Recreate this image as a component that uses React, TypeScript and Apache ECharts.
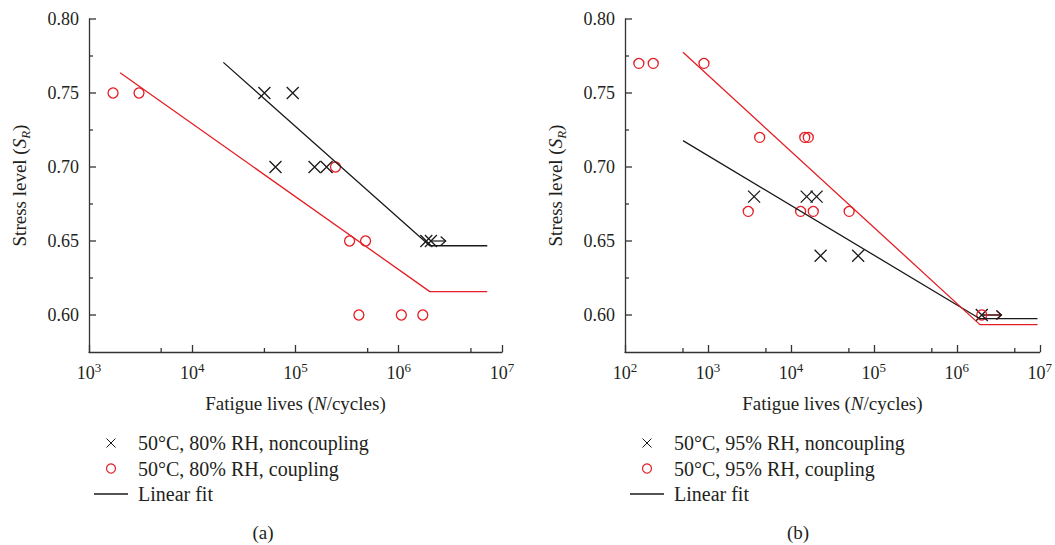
import React, { useEffect, useRef } from "react";
import * as echarts from "echarts";

// ---------- data ----------
// Panel (a): 50°C, 80% RH
const noncouplingA: number[][] = [
  [5.0e4, 0.75], [9.4e4, 0.75], [6.4e4, 0.70], [1.53e5, 0.70], [2.0e5, 0.70],
  [1.85e6, 0.65], [2.05e6, 0.65],
];
const couplingA: number[][] = [
  [1.71e3, 0.75], [3.05e3, 0.75], [2.44e5, 0.70], [3.34e5, 0.65], [4.77e5, 0.65],
  [4.11e5, 0.60], [1.06e6, 0.60], [1.71e6, 0.60],
];
const fitNoncouplingA: number[][] = [[2e4, 0.7707], [2e6, 0.6468], [7.2e6, 0.6468]];
const fitCouplingA: number[][] = [[2e3, 0.7637], [2e6, 0.6158], [7.2e6, 0.6158]];
const runoutA: number[][] = [[2.05e6, 0.65, 2.85e6]];

// Panel (b): 50°C, 95% RH
const noncouplingB: number[][] = [
  [3.6e3, 0.68], [1.55e4, 0.68], [2.04e4, 0.68], [2.28e4, 0.64], [6.47e4, 0.64],
  [2.0e6, 0.60],
];
const couplingB: number[][] = [
  [147, 0.77], [219, 0.77], [896, 0.77], [4.2e3, 0.72], [1.47e4, 0.72], [1.62e4, 0.72],
  [3.06e3, 0.67], [1.31e4, 0.67], [1.86e4, 0.67], [5.04e4, 0.67], [2.0e6, 0.60],
];
const fitNoncouplingB: number[][] = [[500, 0.7178], [1.9e6, 0.5975], [9.4e6, 0.5975]];
const fitCouplingB: number[][] = [[500, 0.7775], [1.9e6, 0.5935], [9.4e6, 0.5935]];
const runoutB: number[][] = [[2.05e6, 0.60, 3.45e6]];

// tick values
const yMajorTicks = [0.6, 0.65, 0.7, 0.75, 0.8];
const yMinorTicks = [0.625, 0.675, 0.725, 0.775];
const xMinorTicksA = [5e3, 5e4, 5e5, 5e6];
const xMinorTicksB = [5e2, 5e3, 5e4, 5e5, 5e6];

const namesA = ["50°C, 80% RH, noncoupling", "50°C, 80% RH, coupling", "Linear fit"];
const namesB = ["50°C, 95% RH, noncoupling", "50°C, 95% RH, coupling", "Linear fit"];

// ---------- styles ----------
const FONT = "Liberation Serif, serif";
const TXT = "#231f20";
const AX = "#333333";
const RED = "#e41f26";
const BLK = "#1a1a1a";
const XSYM = "path://M0 0L10 10M10 0L0 10";
const LINE_ICON = "path://M0 0H34V1.3H0Z";

export default function App() {
  const ref = useRef<HTMLDivElement>(null);

  useEffect(() => {
    if (!ref.current) return;
    const chart = echarts.init(ref.current, undefined, { renderer: "svg" });

    const xAxisCommon = (gridIndex: number, min: number) => ({
      type: "log",
      logBase: 10,
      gridIndex,
      min,
      max: 1e7,
      axisLine: { show: true, lineStyle: { color: AX, width: 1.3 } },
      axisTick: { show: true, inside: true, length: 7, lineStyle: { color: AX, width: 1.3 } },
      splitLine: { show: false },
      minorTick: { show: false },
      axisLabel: {
        margin: 9,
        fontFamily: FONT,
        formatter: (v: number) => `{b|10}{s|${Math.round(Math.log10(v))}}`,
        rich: {
          b: { fontFamily: FONT, fontSize: 18, color: TXT },
          s: { fontFamily: FONT, fontSize: 13, color: TXT, verticalAlign: "top", padding: [0, 0, 10, 0] },
        },
      },
      name: "Fatigue lives ({i|N}/cycles)",
      nameLocation: "middle",
      nameGap: 42,
      nameTextStyle: {
        fontFamily: FONT,
        fontSize: 19,
        color: TXT,
        rich: { i: { fontFamily: FONT, fontSize: 19, fontStyle: "italic", color: TXT } },
      },
    });

    const yAxisCommon = (gridIndex: number) => ({
      type: "value",
      gridIndex,
      min: 0.575,
      max: 0.8,
      interval: 0.025,
      axisLine: { show: true, lineStyle: { color: AX, width: 1.3 } },
      axisTick: { show: false },
      splitLine: { show: false },
      axisLabel: {
        margin: 10,
        fontFamily: FONT,
        fontSize: 18,
        color: TXT,
        formatter: (v: number) => (Math.round(v * 1000) % 50 === 0 ? v.toFixed(2) : ""),
      },
      name: "Stress level ({i|S}{sub|R})",
      nameLocation: "middle",
      nameRotate: 90,
      nameGap: 57,
      nameTextStyle: {
        fontFamily: FONT,
        fontSize: 19,
        color: TXT,
        rich: {
          i: { fontFamily: FONT, fontSize: 19, fontStyle: "italic", color: TXT },
          sub: { fontFamily: FONT, fontSize: 13, fontStyle: "italic", color: TXT, verticalAlign: "bottom", padding: [12, 0, 0, 0] },
        },
      },
    });

    const tickRows = (xMin: number, xMinor: number[]) => [
      ...yMajorTicks.map((v) => [xMin, v, 7, 0]),
      ...yMinorTicks.map((v) => [xMin, v, 4, 0]),
      ...xMinor.map((v) => [v, 0.575, 4, 1]),
    ];

    const tickSeries = (idx: number, xMin: number, xMinor: number[]) => ({
      type: "custom",
      xAxisIndex: idx,
      yAxisIndex: idx,
      silent: true,
      clip: false,
      encode: { x: 0, y: 1 },
      data: tickRows(xMin, xMinor),
      renderItem: (_p: any, api: any) => {
        const pt = api.coord([api.value(0), api.value(1)]);
        const len = api.value(2);
        const dir = api.value(3);
        const shape =
          dir === 0
            ? { x1: pt[0], y1: pt[1], x2: pt[0] + len, y2: pt[1] }
            : { x1: pt[0], y1: pt[1], x2: pt[0], y2: pt[1] - len };
        return { type: "line", shape, style: { stroke: AX, lineWidth: 1.3 } };
      },
    });

    const arrowSeries = (idx: number, data: number[][], color: string) => ({
      type: "custom",
      xAxisIndex: idx,
      yAxisIndex: idx,
      silent: true,
      clip: false,
      encode: { x: 0, y: 1 },
      data,
      renderItem: (_p: any, api: any) => {
        const p1 = api.coord([api.value(0), api.value(1)]);
        const p2 = api.coord([api.value(2), api.value(1)]);
        return {
          type: "group",
          children: [
            { type: "line", shape: { x1: p1[0], y1: p1[1], x2: p2[0], y2: p2[1] }, style: { stroke: color, lineWidth: 1.2 } },
            {
              type: "polyline",
              shape: { points: [[p2[0] - 5, p2[1] - 4.5], [p2[0], p2[1]], [p2[0] - 5, p2[1] + 4.5]] },
              style: { stroke: color, fill: "none", lineWidth: 1.2 },
            },
          ],
        };
      },
    });

    const fitSeries = (idx: number, data: number[][], color: string) => ({
      type: "line",
      name: "Linear fit",
      xAxisIndex: idx,
      yAxisIndex: idx,
      data,
      symbol: "none",
      lineStyle: { color, width: 1.3 },
      itemStyle: { color },
      silent: true,
    });

    const xSeries = (idx: number, name: string, data: number[][]) => ({
      type: "scatter",
      name,
      xAxisIndex: idx,
      yAxisIndex: idx,
      data,
      symbol: XSYM,
      symbolSize: 12,
      itemStyle: { color: "rgba(0,0,0,0)", borderColor: BLK, borderWidth: 1.3, opacity: 1 },
    });

    const oSeries = (idx: number, name: string, data: number[][]) => ({
      type: "scatter",
      name,
      xAxisIndex: idx,
      yAxisIndex: idx,
      data,
      symbol: "circle",
      symbolSize: 10,
      itemStyle: { color: "rgba(0,0,0,0)", borderColor: RED, borderWidth: 1.3, opacity: 1 },
    });

    const legendCommon = (left: number, names: string[]) => ({
      orient: "vertical",
      left,
      top: 428,
      itemWidth: 34,
      itemHeight: 9,
      itemGap: 5.5,
      selectedMode: false,
      data: names.map((n, i) =>
        i === 2
          ? { name: n, icon: LINE_ICON, itemStyle: { color: BLK, borderWidth: 0 } }
          : i === 0
          ? { name: n, itemStyle: { color: "rgba(0,0,0,0)", borderColor: BLK, borderWidth: 1 } }
          : { name: n, itemStyle: { color: "rgba(0,0,0,0)", borderColor: RED, borderWidth: 1.2 } }
      ),
      textStyle: { fontFamily: FONT, fontSize: 20, lineHeight: 20, color: TXT, padding: [0, 0, 0, 5] },
    });

    const option: any = {
      animation: false,
      backgroundColor: "#ffffff",
      textStyle: { fontFamily: FONT },
      grid: [
        { left: 89, top: 19, width: 413, height: 333 },
        { left: 625, top: 19, width: 415, height: 333 },
      ],
      xAxis: [xAxisCommon(0, 1e3), xAxisCommon(1, 1e2)],
      yAxis: [yAxisCommon(0), yAxisCommon(1)],
      legend: [legendCommon(89, namesA), legendCommon(625, namesB)],
      series: [
        fitSeries(0, fitNoncouplingA, BLK),
        fitSeries(0, fitCouplingA, RED),
        fitSeries(1, fitNoncouplingB, BLK),
        fitSeries(1, fitCouplingB, RED),
        tickSeries(0, 1e3, xMinorTicksA),
        tickSeries(1, 1e2, xMinorTicksB),
        arrowSeries(0, runoutA, BLK),
        arrowSeries(1, runoutB, RED),
        arrowSeries(1, runoutB, BLK),
        xSeries(0, namesA[0], noncouplingA),
        oSeries(0, namesA[1], couplingA),
        xSeries(1, namesB[0], noncouplingB),
        oSeries(1, namesB[1], couplingB),
      ],
      graphic: [
        { type: "text", x: 263, y: 532, style: { text: "(a)", font: `19px ${FONT}`, fill: TXT, align: "center", verticalAlign: "middle" } },
        { type: "text", x: 798, y: 532, style: { text: "(b)", font: `19px ${FONT}`, fill: TXT, align: "center", verticalAlign: "middle" } },
      ],
    };

    chart.setOption(option);
    return () => chart.dispose();
  }, []);

  return (
    <div
      ref={ref}
      style={{ position: "fixed", left: 0, top: 0, width: 1055, height: 545, background: "#fff" }}
    />
  );
}
